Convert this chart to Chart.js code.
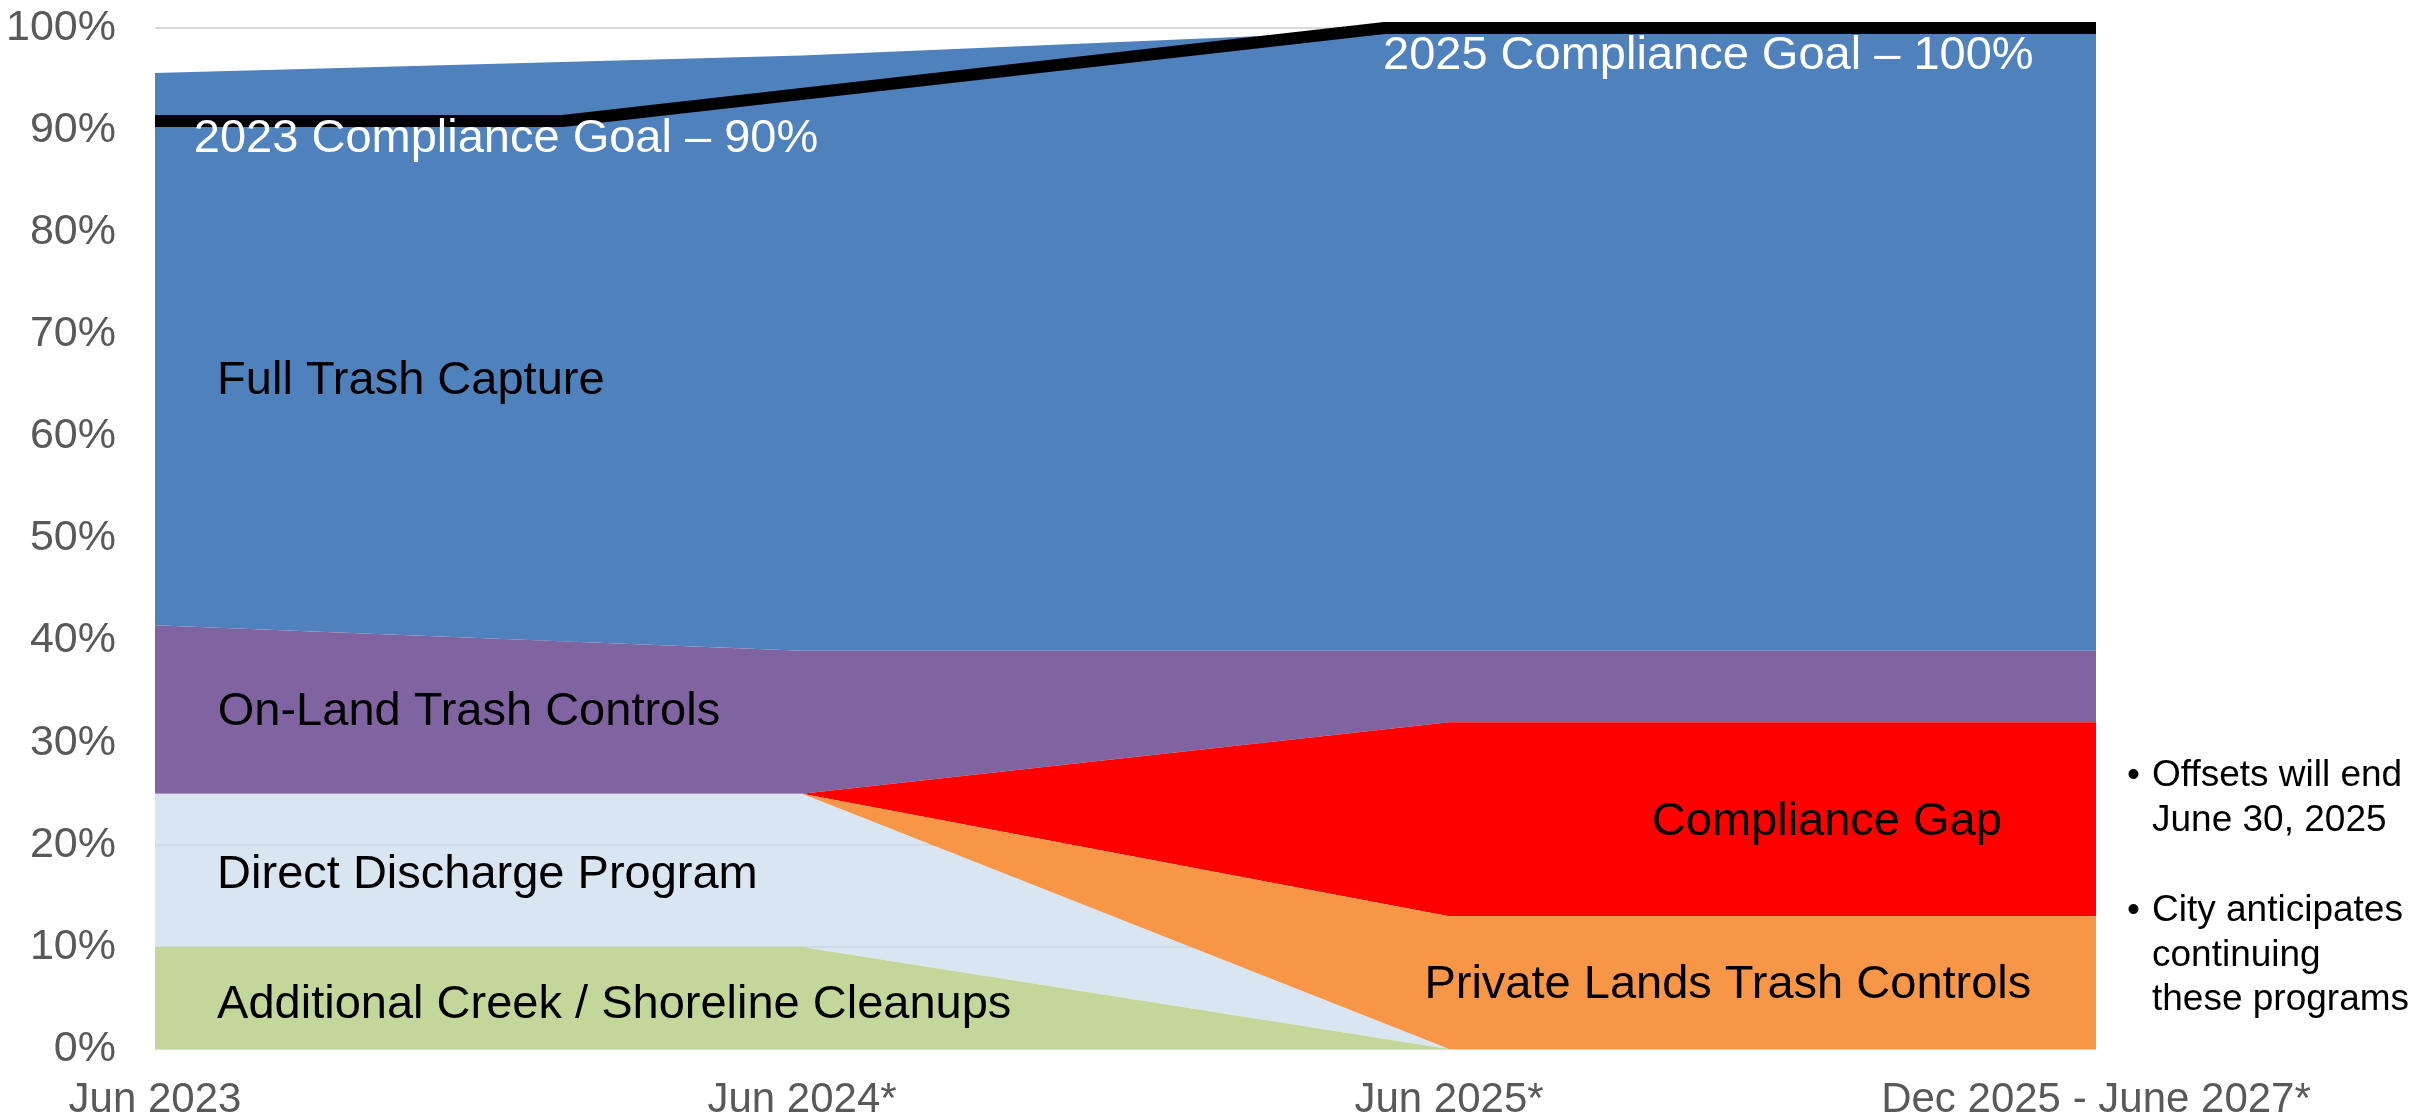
<!DOCTYPE html>
<html>
<head>
<meta charset="utf-8">
<script src="https://cdn.jsdelivr.net/npm/chart.js@4"></script>
<style>
  html, body { margin: 0; padding: 0; background: #fff; }
  #wrap { width: 2425px; height: 1120px; }
</style>
</head>
<body>
<div id="wrap"><canvas id="myChart" width="2425" height="1120"></canvas></div>
<script>
// eje X
var categories = ['Jun 2023', 'Jun 2024*', 'Jun 2025*', 'Dec 2025 - June 2027*'];
// capas (de abajo hacia arriba), en %
var creekCleanups = [10, 10, 0, 0];
var directDischarge = [15, 15, 0, 0];
var privateLands = [0, 0, 13, 13];
var complianceGap = [0, 0, 19, 19];
var onLandControls = [16.5, 14, 7, 7];
var fullTrashCapture = [54.1, 58.3, 61, 61];
// linea de meta
var goalX = [0, 0.63, 1.9, 3];
var goalY = [90.9, 90.9, 100, 100];
// ticks eje Y
var yTicks = [0, 10, 20, 30, 40, 50, 60, 70, 80, 90, 100];

var FONT = "'Liberation Sans', Arial, sans-serif";

// textos dentro del grafico (posicion en coordenadas de datos)
var areaLabels = [
    { text: '2023 Compliance Goal \u2013 90%', x: 0.06, y: 89.1, align: 'left', color: '#ffffff' },
    { text: '2025 Compliance Goal \u2013 100%', x: 1.898, y: 97.3, align: 'left', color: '#ffffff' },
    { text: 'Full Trash Capture', x: 0.096, y: 65.4, align: 'left', color: '#000000' },
    { text: 'On-Land Trash Controls', x: 0.097, y: 33.0, align: 'left', color: '#000000' },
    { text: 'Direct Discharge Program', x: 0.096, y: 17.0, align: 'left', color: '#000000' },
    { text: 'Additional Creek / Shoreline Cleanups', x: 0.096, y: 4.3, align: 'left', color: '#000000' },
    { text: 'Compliance Gap', x: 2.584, y: 22.2, align: 'center', color: '#000000' },
    { text: 'Private Lands Trash Controls', x: 2.431, y: 6.3, align: 'center', color: '#000000' }
];

var notes = [
    { bullet: true, text: 'Offsets will end', y: 776 },
    { bullet: false, text: 'June 30, 2025', y: 821 },
    { bullet: true, text: 'City anticipates', y: 911 },
    { bullet: false, text: 'continuing', y: 956 },
    { bullet: false, text: 'these programs', y: 1000 }
];

function puntos(vals) {
    return vals.map(function (v, i) { return { x: i, y: v }; });
}

function capa(label, vals, color, fill) {
    return {
        label: label,
        data: puntos(vals),
        backgroundColor: color,
        borderColor: color,
        borderWidth: 0,
        pointRadius: 0,
        tension: 0,
        fill: fill
    };
}

var labelsPlugin = {
    id: 'labelsPlugin',
    afterDatasetsDraw: function (chart) {
        var ctx = chart.ctx;
        var sx = chart.scales.x, sy = chart.scales.y;
        ctx.save();
        ctx.font = '47px ' + FONT;
        ctx.textBaseline = 'middle';
        areaLabels.forEach(function (l) {
            ctx.fillStyle = l.color;
            ctx.textAlign = l.align;
            ctx.fillText(l.text, sx.getPixelForValue(l.x), sy.getPixelForValue(l.y));
        });
        ctx.restore();
    },
    afterDraw: function (chart) {
        var ctx = chart.ctx;
        ctx.save();
        ctx.font = '37px ' + FONT;
        ctx.textBaseline = 'middle';
        ctx.textAlign = 'left';
        ctx.fillStyle = '#000000';
        notes.forEach(function (n) {
            if (n.bullet) ctx.fillText('\u2022', 2127, n.y);
            ctx.fillText(n.text, 2152, n.y);
        });
        ctx.restore();
    }
};

var ctx = document.getElementById('myChart').getContext('2d');

var myChart = new Chart(ctx, {
    type: 'line',
    data: {
        datasets: [
            capa('Additional Creek / Shoreline Cleanups', creekCleanups, '#C4D79B', 'origin'),
            capa('Direct Discharge Program', directDischarge, 'rgba(199,216,234,0.68)', '-1'),
            capa('Private Lands Trash Controls', privateLands, '#F79646', '-1'),
            capa('Compliance Gap', complianceGap, '#FF0000', '-1'),
            capa('On-Land Trash Controls', onLandControls, '#8064A2', '-1'),
            capa('Full Trash Capture', fullTrashCapture, '#4F81BD', '-1'),
            {
                label: 'Compliance Goal',
                data: goalX.map(function (x, i) { return { x: x, y: goalY[i] }; }),
                stack: 'goal',
                order: -1,
                borderColor: '#000000',
                borderWidth: 12,
                borderCapStyle: 'butt',
                borderJoinStyle: 'miter',
                pointRadius: 0,
                tension: 0,
                fill: false,
                clip: false
            }
        ]
    },
    options: {
        responsive: false,
        animation: false,
        layout: { padding: { top: 28, right: 329, left: 0, bottom: 0 } },
        plugins: {
            legend: { display: false },
            tooltip: { enabled: false }
        },
        scales: {
            x: {
                type: 'linear',
                min: 0,
                max: 3,
                afterFit: function (s) { s.height = 71; },
                afterBuildTicks: function (s) {
                    s.ticks = categories.map(function (c, i) { return { value: i }; });
                },
                ticks: {
                    callback: function (v) { return categories[v]; },
                    color: '#595959',
                    font: { family: FONT, size: 42 },
                    padding: 26,
                    maxRotation: 0,
                    autoSkip: false
                },
                grid: { display: false, drawTicks: false },
                border: { display: false }
            },
            y: {
                stacked: true,
                min: 0,
                max: 100,
                afterFit: function (s) {
                    s.width = 155;
                    s.paddingTop = 0;
                    s.paddingBottom = 0;
                },
                afterBuildTicks: function (s) {
                    s.ticks = yTicks.map(function (v) { return { value: v }; });
                },
                ticks: {
                    callback: function (v) { return v + '%'; },
                    color: '#595959',
                    font: { family: FONT, size: 43 },
                    padding: 39
                },
                grid: { color: '#D9D9D9', lineWidth: 2, drawTicks: false },
                border: { display: false }
            }
        }
    },
    plugins: [labelsPlugin]
});
</script>
</body>
</html>
